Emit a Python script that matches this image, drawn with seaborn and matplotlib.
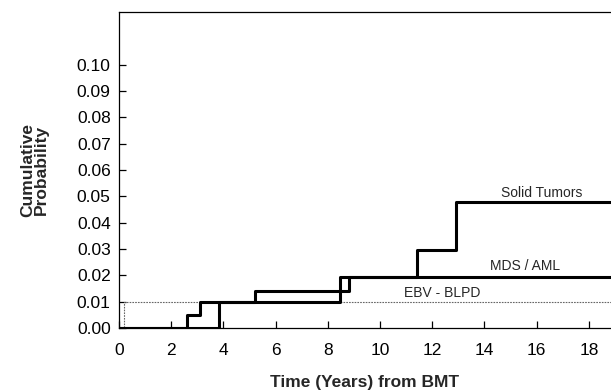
import pandas as pd
import seaborn as sns
import matplotlib
matplotlib.use("Agg")
import matplotlib.pyplot as plt

# step curves (years, cumulative probability)
solid_t = [0, 3.83, 8.45, 11.4, 12.9, 18.85]
solid_p = [0, 0.0097, 0.0195, 0.0295, 0.0478, 0.0478]
mds_t = [0, 2.6, 3.1, 5.2, 8.8, 18.85]
mds_p = [0, 0.0050, 0.0097, 0.0142, 0.0195, 0.0195]
ebv_t = [0, 0.2, 18.85]
ebv_p = [0, 0.0097, 0.0097]

x_ticks = [0, 2, 4, 6, 8, 10, 12, 14, 16, 18]
y_ticks = [0.00, 0.01, 0.02, 0.03, 0.04, 0.05, 0.06, 0.07, 0.08, 0.09, 0.10]

sns.set_style("ticks")
plt.rcParams["font.family"] = ["Liberation Sans", "DejaVu Sans"]

df = pd.concat([
    pd.DataFrame({"time": solid_t, "prob": solid_p, "group": "Solid Tumors"}),
    pd.DataFrame({"time": mds_t, "prob": mds_p, "group": "MDS / AML"}),
])
ebv = pd.DataFrame({"time": ebv_t, "prob": ebv_p})

fig = plt.figure(figsize=(6.11, 3.91), dpi=100)
ax = fig.add_axes([119 / 611, 63 / 391, 492 / 611, 316 / 391])

sns.lineplot(data=ebv, x="time", y="prob", ax=ax, color="#666666",
             linewidth=0.8, linestyle=(0, (1.5, 1)), drawstyle="steps-post",
             estimator=None, sort=False)
sns.lineplot(data=df, x="time", y="prob", units="group", ax=ax, color="black",
             linewidth=2.2, drawstyle="steps-post", estimator=None, sort=False)

ax.set_xlim(0, 18.85)
ax.set_ylim(0, 0.12)
ax.set_xticks(x_ticks)
ax.set_yticks(y_ticks)
ax.set_yticklabels([f"{v:.2f}" for v in y_ticks])
ax.tick_params(direction="in", length=5, width=0.9, labelsize=12.5, colors="black")
ax.tick_params(axis="x", pad=11)
ax.tick_params(axis="y", pad=6)
ax.spines["right"].set_visible(False)
for s in ["left", "bottom", "top"]:
    ax.spines[s].set_linewidth(0.9)
    ax.spines[s].set_color("black")

ax.set_xlabel("Time (Years) from BMT", fontsize=12.5, fontweight="bold", labelpad=12)
ax.set_ylabel("Cumulative\nProbability", fontsize=12.5, fontweight="bold",
              labelpad=20, linespacing=0.9)

ax.text(16.2, 0.0513, "Solid Tumors", fontsize=10, ha="center", va="center")
ax.text(15.55, 0.0236, "MDS / AML", fontsize=10, ha="center", va="center")
ax.text(12.4, 0.0133, "EBV - BLPD", fontsize=10, ha="center", va="center")

fig.savefig("out.png", dpi=100)
